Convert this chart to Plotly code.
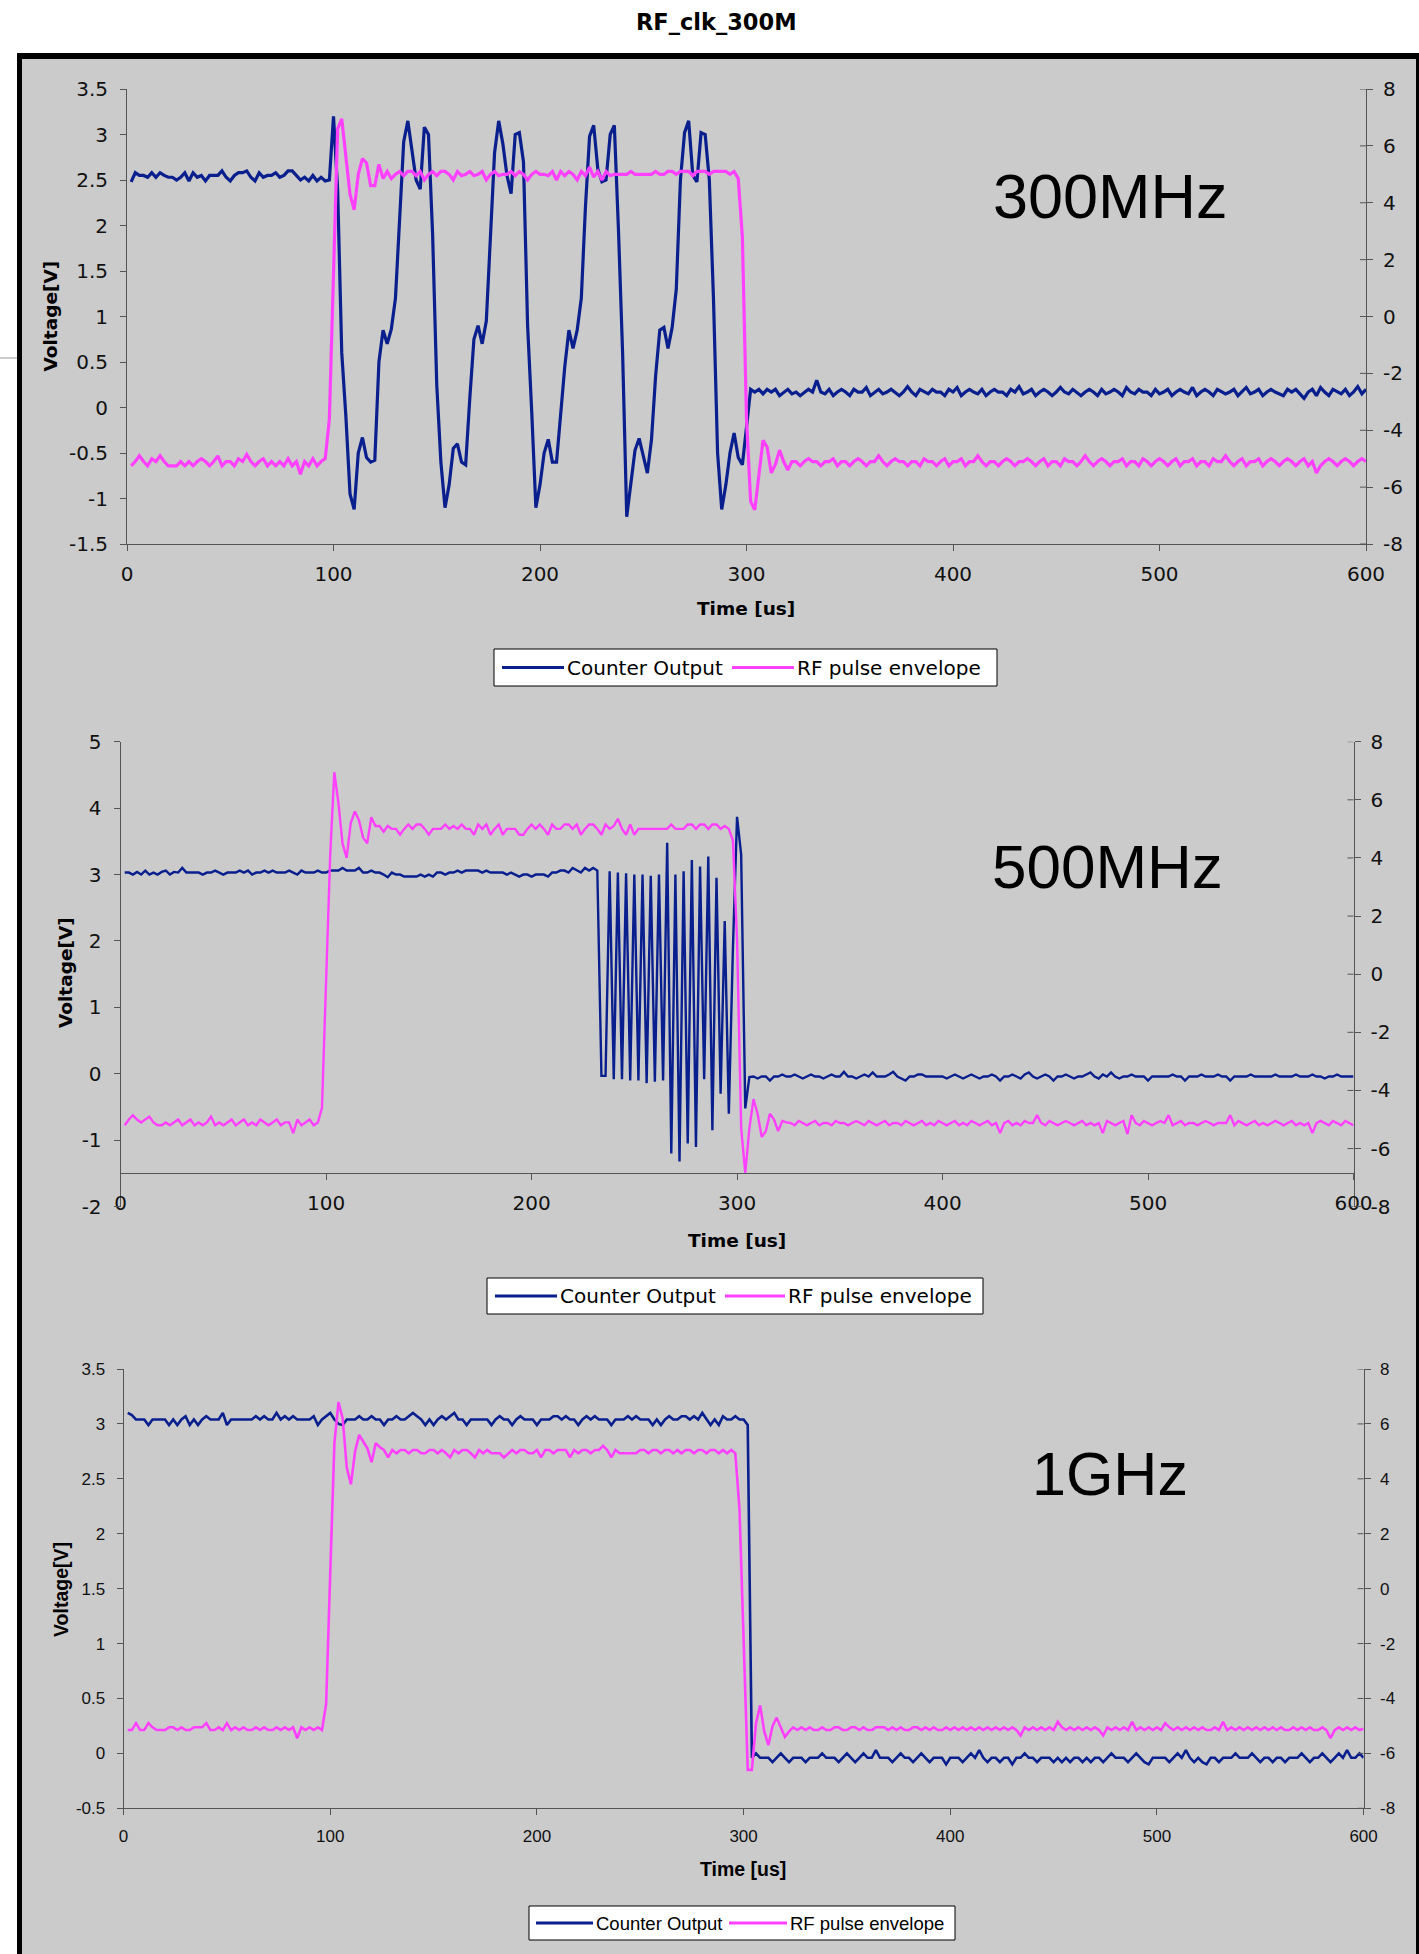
import plotly.graph_objects as go

W, H = 1419, 1954

# ---------------- data ----------------
TIME_US = [
    2, 4, 6, 8, 10, 12, 14, 16, 18, 20, 22, 24, 26, 28, 30, 32, 34, 36, 38, 40,
    42, 44, 46, 48, 50, 52, 54, 56, 58, 60, 62, 64, 66, 68, 70, 72, 74, 76, 78, 80,
    82, 84, 86, 88, 90, 92, 94, 96, 98, 100, 102, 104, 106, 108, 110, 112, 114, 116, 118, 120,
    122, 124, 126, 128, 130, 132, 134, 136, 138, 140, 142, 144, 146, 148, 150, 152, 154, 156, 158, 160,
    162, 164, 166, 168, 170, 172, 174, 176, 178, 180, 182, 184, 186, 188, 190, 192, 194, 196, 198, 200,
    202, 204, 206, 208, 210, 212, 214, 216, 218, 220, 222, 224, 226, 228, 230, 232, 234, 236, 238, 240,
    242, 244, 246, 248, 250, 252, 254, 256, 258, 260, 262, 264, 266, 268, 270, 272, 274, 276, 278, 280,
    282, 284, 286, 288, 290, 292, 294, 296, 298, 300, 302, 304, 306, 308, 310, 312, 314, 316, 318, 320,
    322, 324, 326, 328, 330, 332, 334, 336, 338, 340, 342, 344, 346, 348, 350, 352, 354, 356, 358, 360,
    362, 364, 366, 368, 370, 372, 374, 376, 378, 380, 382, 384, 386, 388, 390, 392, 394, 396, 398, 400,
    402, 404, 406, 408, 410, 412, 414, 416, 418, 420, 422, 424, 426, 428, 430, 432, 434, 436, 438, 440,
    442, 444, 446, 448, 450, 452, 454, 456, 458, 460, 462, 464, 466, 468, 470, 472, 474, 476, 478, 480,
    482, 484, 486, 488, 490, 492, 494, 496, 498, 500, 502, 504, 506, 508, 510, 512, 514, 516, 518, 520,
    522, 524, 526, 528, 530, 532, 534, 536, 538, 540, 542, 544, 546, 548, 550, 552, 554, 556, 558, 560,
    562, 564, 566, 568, 570, 572, 574, 576, 578, 580, 582, 584, 586, 588, 590, 592, 594, 596, 598, 600,
]

# ---- 300MHz : Counter Output (left axis) ----
C300_PRE = [  # t = 2 .. 98
    2.48, 2.58, 2.55, 2.55, 2.53, 2.58, 2.53, 2.58, 2.55, 2.53,
    2.53, 2.5, 2.53, 2.58, 2.49, 2.58, 2.53, 2.55, 2.49, 2.55,
    2.55, 2.55, 2.6, 2.53, 2.49, 2.55, 2.58, 2.58, 2.6, 2.53,
    2.49, 2.58, 2.53, 2.55, 2.55, 2.58, 2.53, 2.55, 2.6, 2.6,
    2.55, 2.5, 2.53, 2.49, 2.55, 2.49, 2.53, 2.49, 2.5]
C300_PULSE = [  # t = 100 .. 302
    3.2, 2.4, 0.6, -0.1, -0.95, -1.12, -0.5, -0.33, -0.55, -0.6,
    -0.58, 0.5, 0.85, 0.7, 0.86, 1.2, 2.05, 2.92, 3.15, 2.8,
    2.5, 2.4, 3.08, 3.0, 1.9, 0.25, -0.6, -1.1, -0.85, -0.45,
    -0.4, -0.6, -0.63, 0.1, 0.75, 0.9, 0.7, 0.95, 1.95, 2.8,
    3.15, 2.9, 2.55, 2.35, 3.0, 3.02, 2.7, 0.9, -0.05, -1.1,
    -0.85, -0.5, -0.35, -0.6, -0.6, -0.05, 0.45, 0.85, 0.65, 0.85,
    1.2, 2.2, 2.98, 3.1, 2.62, 2.48, 2.5, 3.0, 3.1, 1.95,
    0.6, -1.2, -0.8, -0.47, -0.34, -0.55, -0.72, -0.35, 0.35, 0.85,
    0.88, 0.65, 0.88, 1.3, 2.5, 3.02, 3.15, 2.55, 2.48, 3.02,
    3.0, 2.5, 1.2, -0.5, -1.12, -0.85, -0.5, -0.28, -0.55, -0.63,
    -0.2, 0.2]
C300_POST = [  # t = 304 .. 600
    0.17, 0.2, 0.15, 0.2, 0.17, 0.2, 0.13, 0.17, 0.2, 0.15,
    0.17, 0.13, 0.17, 0.2, 0.17, 0.3, 0.17, 0.15, 0.2, 0.13,
    0.17, 0.2, 0.17, 0.13, 0.2, 0.17, 0.17, 0.22, 0.13, 0.17,
    0.2, 0.15, 0.17, 0.2, 0.17, 0.13, 0.17, 0.23, 0.17, 0.13,
    0.2, 0.17, 0.15, 0.2, 0.17, 0.17, 0.13, 0.2, 0.17, 0.22,
    0.13, 0.17, 0.2, 0.17, 0.15, 0.2, 0.13, 0.17, 0.2, 0.17,
    0.17, 0.13, 0.2, 0.17, 0.23, 0.15, 0.17, 0.2, 0.13, 0.17,
    0.2, 0.17, 0.13, 0.17, 0.22, 0.17, 0.15, 0.2, 0.17, 0.13,
    0.17, 0.2, 0.17, 0.13, 0.2, 0.15, 0.17, 0.2, 0.17, 0.13,
    0.22, 0.17, 0.15, 0.2, 0.17, 0.17, 0.13, 0.2, 0.15, 0.17,
    0.2, 0.13, 0.17, 0.2, 0.17, 0.15, 0.22, 0.13, 0.17, 0.2,
    0.17, 0.13, 0.2, 0.17, 0.15, 0.17, 0.2, 0.13, 0.17, 0.22,
    0.15, 0.17, 0.2, 0.13, 0.17, 0.2, 0.17, 0.15, 0.13, 0.2,
    0.17, 0.2, 0.15, 0.1, 0.17, 0.2, 0.13, 0.22, 0.17, 0.13,
    0.2, 0.17, 0.15, 0.2, 0.13, 0.17, 0.23, 0.15, 0.2]

# ---- 300MHz : RF pulse envelope (right axis) ----
RF300_PRE = [  # t = 2 .. 96
    -5.25, -5.1, -4.9, -5.1, -5.25, -5.0, -5.1, -4.9, -5.1, -5.25,
    -5.25, -5.25, -5.1, -5.25, -5.1, -5.25, -5.1, -5.0, -5.1, -5.25,
    -5.1, -4.9, -5.25, -5.1, -5.1, -5.25, -5.0, -5.1, -4.85, -5.1,
    -5.25, -5.1, -5.0, -5.25, -5.1, -5.25, -5.1, -5.25, -5.0, -5.25,
    -5.1, -5.55, -5.1, -5.25, -5.0, -5.25, -5.1, -5.0]
RF300_ON = [  # t = 98 .. 298
    -3.6, 2.0, 6.6, 6.95, 5.5, 4.3, 3.75, 5.0, 5.55, 5.4,
    4.6, 4.6, 5.35, 4.85, 5.1, 4.85, 5.0, 5.1, 4.95, 5.1,
    5.1, 4.95, 5.1, 4.8, 5.0, 5.1, 4.95, 5.1, 5.1, 5.0,
    4.8, 5.1, 4.95, 5.0, 5.1, 4.95, 5.0, 5.1, 4.8, 5.0,
    5.1, 4.95, 5.0, 5.0, 5.1, 4.95, 5.1, 5.0, 4.8, 5.0,
    5.1, 5.0, 5.0, 4.95, 5.1, 4.8, 5.1, 4.95, 5.1, 5.0,
    4.8, 5.1, 4.95, 5.25, 4.9, 5.1, 4.8, 5.1, 4.95, 5.0,
    5.0, 5.0, 5.0, 5.1, 5.0, 5.0, 5.0, 5.0, 5.0, 5.1,
    5.0, 5.0, 5.1, 5.1, 5.0, 5.1, 5.1, 5.1, 4.95, 5.1,
    5.1, 5.1, 5.0, 5.1, 5.1, 5.1, 5.1, 5.0, 5.1, 4.85,
    2.8]
RF300_POST = [  # t = 300 .. 600
    -3.6, -6.5, -6.8, -5.6, -4.35, -4.6, -5.5, -5.2, -4.7, -5.1,
    -5.4,
    -5.1, -5.1, -5.25, -5.1, -5.0, -5.1, -5.1, -5.25, -5.1, -5.1,
    -5.0, -5.25, -5.1, -5.1, -5.25, -5.1, -5.0, -5.1, -5.25, -5.1,
    -5.1, -4.9, -5.1, -5.25, -5.1, -5.0, -5.1, -5.1, -5.25, -5.1,
    -5.1, -5.25, -5.0, -5.1, -5.1, -5.25, -5.1, -5.0, -5.25, -5.1,
    -5.1, -5.0, -5.25, -5.1, -5.1, -4.9, -5.1, -5.25, -5.1, -5.1,
    -5.25, -5.1, -5.0, -5.1, -5.25, -5.1, -5.1, -5.0, -5.1, -5.25,
    -5.1, -5.0, -5.25, -5.1, -5.1, -5.25, -5.0, -5.1, -5.1, -5.25,
    -5.1, -4.9, -5.1, -5.25, -5.1, -5.0, -5.1, -5.25, -5.1, -5.1,
    -5.0, -5.25, -5.1, -5.1, -5.25, -5.0, -5.1, -5.25, -5.1, -5.0,
    -5.1, -5.25, -5.1, -5.0, -5.25, -5.1, -5.1, -5.0, -5.25, -5.1,
    -5.1, -5.25, -5.0, -5.1, -5.1, -4.9, -5.1, -5.25, -5.1, -5.0,
    -5.25, -5.1, -5.1, -5.0, -5.25, -5.1, -5.0, -5.1, -5.25, -5.1,
    -5.0, -5.1, -5.25, -5.1, -5.0, -5.25, -5.1, -5.5, -5.25, -5.1,
    -5.0, -5.1, -5.25, -5.1, -5.0, -5.1, -5.25, -5.1, -5.0, -5.1]

# ---- 500MHz : Counter Output (left axis) ----
C500_PRE = [  # t = 2 .. 230
    3.03, 3.03, 3.0, 3.04, 3.0, 3.06, 3.0, 3.03, 3.0, 3.04,
    3.06, 3.0, 3.04, 3.03, 3.1, 3.03, 3.03, 3.03, 3.03, 3.0,
    3.03, 3.03, 3.06, 3.03, 3.0, 3.03, 3.03, 3.03, 3.06, 3.03,
    3.06, 3.0, 3.03, 3.03, 3.06, 3.03, 3.06, 3.03, 3.03, 3.03,
    3.06, 3.03, 3.0, 3.06, 3.03, 3.03, 3.03, 3.06, 3.03, 3.03,
    3.06, 3.06, 3.06, 3.1, 3.06, 3.06, 3.06, 3.1, 3.03, 3.03,
    3.06, 3.03, 3.03, 3.0, 2.96, 3.03, 3.0, 3.0, 2.97, 2.97,
    2.97, 2.97, 3.0, 2.97, 3.0, 2.97, 3.03, 3.03, 3.0, 3.03,
    3.03, 3.06, 3.03, 3.06, 3.06, 3.06, 3.06, 3.03, 3.06, 3.03,
    3.03, 3.03, 3.03, 3.0, 3.03, 3.0, 2.97, 3.0, 3.0, 2.97,
    3.0, 3.0, 3.0, 2.97, 3.03, 3.03, 3.06, 3.06, 3.03, 3.1,
    3.06, 3.03, 3.1, 3.06, 3.1]
C500_BURST = [  # t = 232 .. 306
    3.06, -0.03, -0.03, 3.05, -0.08, 3.03, -0.08, 3.02, -0.1, 3.0,
    -0.1, 3.0, -0.14, 2.98, -0.12, 3.0, -0.1, 3.48, -1.2, 3.0,
    -1.32, 3.05, -1.05, 3.22, -1.1, 3.12, -0.08, 3.27, -0.85, 2.95,
    -0.3, 2.3, -0.6, 1.9, 3.87, 3.3, -0.52, -0.05]
C500_POST = [  # t = 308 .. 600
    -0.04, -0.07, -0.04, -0.04, -0.1, -0.04, -0.04, -0.01, -0.04, -0.04,
    -0.01, -0.04, -0.07, -0.04, -0.01, -0.04, -0.04, -0.07, -0.04, -0.01,
    -0.04, -0.04, 0.03, -0.04, -0.04, -0.07, -0.04, -0.01, -0.04, 0.02,
    -0.04, -0.04, -0.04, -0.01, 0.03, -0.04, -0.07, -0.1, -0.04, -0.04,
    -0.01, -0.01, -0.04, -0.04, -0.04, -0.04, -0.04, -0.07, -0.04, -0.01,
    -0.04, -0.07, -0.04, -0.01, -0.04, -0.07, -0.04, -0.04, -0.01, -0.04,
    -0.1, -0.04, -0.04, -0.01, -0.04, -0.07, -0.01, 0.02, -0.04, -0.07,
    -0.04, -0.01, -0.04, -0.1, -0.04, -0.04, -0.01, -0.04, -0.07, -0.04,
    -0.04, -0.01, 0.02, -0.04, -0.07, -0.01, -0.04, 0.02, -0.04, -0.07,
    -0.04, -0.04, -0.01, -0.04, -0.04, -0.04, -0.1, -0.04, -0.04, -0.04,
    -0.04, -0.04, -0.01, -0.04, -0.04, -0.1, -0.04, -0.04, -0.04, -0.01,
    -0.04, -0.04, -0.04, -0.01, -0.04, -0.04, -0.1, -0.04, -0.04, -0.04,
    -0.04, -0.01, -0.04, -0.04, -0.04, -0.04, -0.04, -0.01, -0.04, -0.04,
    -0.04, -0.04, -0.01, -0.04, -0.04, -0.04, -0.01, -0.04, -0.04, -0.07,
    -0.04, -0.04, -0.01, -0.04, -0.04, -0.04, -0.04]

# ---- 500MHz : RF pulse envelope (right axis) ----
RF500_PRE = [  # t = 2 .. 96
    -5.2, -5.0, -4.85, -5.0, -5.1, -5.0, -4.9, -5.1, -5.2, -5.2,
    -5.1, -5.2, -5.1, -5.0, -5.2, -5.1, -5.0, -5.2, -5.1, -5.2,
    -5.1, -4.9, -5.2, -5.1, -5.2, -5.1, -5.0, -5.2, -5.1, -5.0,
    -5.2, -5.1, -5.2, -5.0, -5.1, -5.2, -5.1, -5.0, -5.2, -5.1,
    -5.1, -5.47, -5.0, -5.2, -5.1, -5.0, -5.2, -5.1]
RF500_ON = [  # t = 98 .. 296
    -4.6, -0.4, 4.1, 6.95, 5.9, 4.5, 4.0, 5.2, 5.6, 5.3,
    4.7, 4.5, 5.4, 5.1, 5.1, 4.9, 5.1, 5.0,
    5.0, 4.8, 5.0, 5.15, 5.0, 5.15, 5.15, 5.0, 4.8, 5.0,
    5.0, 5.0, 5.15, 5.0, 5.1, 5.0, 5.15, 5.0, 5.0, 4.8,
    5.15, 5.0, 5.15, 4.8, 5.0, 5.15, 4.8, 5.0, 5.0, 5.0,
    4.8, 4.8, 5.0, 5.15, 5.0, 5.15, 5.0, 4.8, 5.15, 5.0,
    5.0, 5.15, 5.15, 5.0, 5.15, 4.8, 5.0, 5.15, 5.15, 5.0,
    4.8, 5.15, 5.0, 5.1, 5.35, 5.0, 4.8, 5.15, 4.8, 5.0,
    5.0, 5.0, 5.0, 5.0, 5.0, 5.0, 5.0, 5.15, 5.0, 5.0,
    5.0, 5.15, 5.15, 5.0, 5.15, 5.15, 5.0, 5.15, 5.15, 5.0,
    5.1, 5.0]
RF500_POST = [  # t = 298 .. 600
    4.6, 1.2, -5.3, -6.84, -5.3, -4.3, -4.8, -5.6, -5.4, -4.8,
    -5.0, -5.4, -5.05, -5.1,
    -5.12, -5.2, -5.05, -5.12, -5.2, -5.12, -5.05, -5.2, -5.12, -5.12,
    -5.2, -5.05, -5.12, -5.12, -5.2, -5.12, -5.05, -5.12, -5.2, -5.05,
    -5.12, -5.2, -5.12, -5.05, -5.2, -5.12, -5.12, -5.2, -5.05, -5.12,
    -5.2, -5.12, -5.05, -5.2, -5.12, -5.2, -5.05, -5.12, -5.2, -5.12,
    -5.05, -5.2, -5.12, -5.2, -5.05, -5.12, -5.2, -5.12, -5.05, -5.2,
    -5.12, -5.47, -5.12, -5.05, -5.2, -5.12, -5.2, -5.05, -5.12, -5.12,
    -4.85, -5.12, -5.2, -5.05, -5.12, -5.2, -5.12, -5.05, -5.12, -5.2,
    -5.12, -5.05, -5.2, -5.12, -5.2, -5.12, -5.47, -5.05, -5.12, -5.2,
    -5.12, -5.05, -5.5, -4.85, -5.12, -5.2, -5.05, -5.12, -5.2, -5.12,
    -5.05, -5.12, -4.85, -5.2, -5.12, -5.05, -5.2, -5.12, -5.12, -5.2,
    -5.12, -5.05, -5.12, -5.2, -5.12, -5.12, -5.12, -4.85, -5.2, -5.05,
    -5.12, -5.2, -5.12, -5.05, -5.2, -5.12, -5.2, -5.12, -5.05, -5.12,
    -5.2, -5.12, -5.05, -5.2, -5.12, -5.2, -5.12, -5.47, -5.12, -5.05,
    -5.12, -5.2, -5.05, -5.12, -5.2, -5.05, -5.12, -5.2]

# ---- 1GHz : Counter Output (left axis) ----
C1G_PRE = [  # t = 2 .. 302
    3.1, 3.08, 3.04, 3.04, 3.04, 2.99, 3.04, 3.04, 3.04, 3.04,
    2.99, 3.04, 2.99, 3.04, 3.07, 2.99, 3.04, 2.99, 3.04, 3.07,
    3.04, 3.04, 3.04, 3.1, 2.99, 3.04, 3.04, 3.04, 3.04, 3.04,
    3.04, 3.07, 3.04, 3.07, 3.04, 3.04, 3.1, 3.04, 3.07, 3.04,
    3.07, 3.04, 3.04, 3.04, 3.04, 3.07, 2.99, 3.04, 3.07, 3.1,
    3.04, 3.0, 2.99, 3.04, 3.04, 3.04, 3.07, 3.04, 3.04, 3.07,
    3.04, 3.04, 2.99, 3.04, 3.04, 3.07, 3.04, 3.04, 3.07, 3.1,
    3.07, 3.04, 2.99, 3.04, 2.99, 3.04, 3.07, 3.04, 3.07, 3.1,
    3.04, 3.04, 2.99, 3.04, 3.04, 3.04, 3.04, 3.04, 2.99, 3.04,
    3.07, 3.04, 3.04, 2.99, 3.04, 3.07, 3.04, 3.04, 3.04, 2.99,
    3.04, 3.04, 3.04, 3.07, 3.07, 3.04, 3.07, 3.04, 3.04, 2.99,
    3.04, 3.07, 3.04, 3.07, 3.04, 3.04, 3.04, 2.99, 3.04, 3.04,
    3.04, 3.07, 3.04, 3.07, 3.04, 3.04, 3.04, 2.99, 3.04, 2.99,
    3.04, 3.07, 3.04, 3.04, 3.07, 3.07, 3.04, 3.07, 3.04, 3.1,
    3.04, 2.99, 3.04, 2.99, 3.07, 3.04, 3.04, 3.07, 3.04, 3.04,
    2.99]
C1G_POST = [  # t = 304 .. 600
    -0.04, 0.0, -0.04, -0.04, -0.04, -0.08, -0.04, 0.0, -0.04, -0.08,
    -0.04, -0.04, -0.04, -0.08, -0.04, -0.04, -0.04, 0.0, -0.04, -0.04,
    -0.04, -0.08, -0.04, 0.0, -0.04, -0.08, -0.04, 0.0, -0.04, -0.04,
    0.03, -0.04, -0.04, -0.04, -0.08, -0.04, 0.0, -0.04, -0.04, -0.08,
    -0.04, 0.0, -0.04, -0.08, -0.04, -0.04, -0.04, -0.1, -0.04, -0.04,
    -0.04, -0.08, -0.04, 0.0, -0.04, 0.03, -0.04, -0.08, -0.04, -0.04,
    -0.08, -0.04, -0.04, -0.1, -0.04, -0.04, 0.0, -0.04, -0.04, -0.08,
    -0.04, -0.04, -0.04, -0.08, -0.04, -0.08, -0.04, -0.08, -0.04, -0.04,
    -0.08, -0.04, -0.08, -0.04, -0.04, -0.08, -0.04, 0.0, -0.04, -0.04,
    -0.04, -0.08, -0.04, 0.0, -0.04, -0.08, -0.1, -0.04, -0.04, -0.04,
    -0.04, -0.08, -0.04, 0.0, -0.04, 0.03, -0.04, -0.08, -0.04, -0.08,
    -0.1, -0.04, -0.04, -0.08, -0.04, -0.04, -0.04, 0.0, -0.04, -0.04,
    -0.04, 0.0, -0.04, -0.08, -0.04, -0.04, -0.08, -0.04, -0.04, -0.08,
    -0.04, -0.04, -0.04, 0.0, -0.04, -0.08, -0.04, -0.04, 0.0, -0.04,
    -0.08, -0.04, 0.0, -0.04, 0.03, -0.04, -0.04, 0.0, -0.04]

# ---- 1GHz : RF pulse envelope (right axis) ----
RF1G_PRE = [  # t = 2 .. 96
    -5.15, -5.15, -4.9, -5.15, -5.15, -4.9, -5.05, -5.15, -5.15, -5.15,
    -5.05, -5.05, -5.15, -5.05, -5.15, -5.15, -5.05, -5.05, -5.05, -4.9,
    -5.15, -5.15, -5.05, -5.15, -4.9, -5.15, -5.05, -5.15, -5.05, -5.15,
    -5.15, -5.05, -5.15, -5.05, -5.15, -5.15, -5.05, -5.15, -5.05, -5.15,
    -5.05, -5.45, -5.05, -5.15, -5.05, -5.15, -5.05, -5.15]
RF1G_ON = [  # t = 98 .. 296
    -4.2, 0.6, 5.3, 6.8, 6.2, 4.4, 3.8, 5.0, 5.6, 5.35,
    5.1, 4.6, 5.3, 5.15,
    5.05, 4.78, 5.05, 4.93, 5.05, 5.05, 4.93, 5.05, 5.05, 4.93,
    4.93, 5.05, 5.05, 4.93, 5.05, 4.93, 4.78, 5.05, 4.93, 5.05,
    5.05, 4.93, 4.78, 5.05, 4.93, 5.05, 4.93, 4.93, 4.93, 4.78,
    4.93, 5.05, 4.93, 5.05, 5.05, 4.93, 4.93, 5.05, 4.78, 5.05,
    5.05, 4.93, 5.05, 5.05, 5.05, 4.78, 5.05, 4.93, 5.05, 5.05,
    4.93, 5.05, 5.05, 5.2, 5.05, 4.78, 5.05, 4.93, 4.93, 4.93,
    4.93, 4.93, 5.05, 5.05, 4.93, 5.05, 5.05, 4.93, 5.05, 5.05,
    4.93, 5.05, 4.93, 5.05, 5.05, 4.93, 5.05, 5.05, 4.93, 5.05,
    5.05, 4.93, 5.05, 4.93, 5.05, 4.93]
RF1G_POST = [  # t = 298 .. 600
    2.9, -2.2, -6.6, -6.6, -4.9, -4.25, -5.2, -5.7, -5.0, -4.7,
    -5.05, -5.4, -5.2, -5.05,
    -5.15, -5.05, -5.15, -5.05, -5.15, -5.15, -5.05, -5.15, -5.15, -5.05,
    -5.05, -5.15, -5.15, -5.05, -5.05, -5.15, -5.05, -5.15, -5.15, -5.05,
    -5.05, -5.05, -5.15, -5.05, -5.15, -5.05, -5.15, -5.15, -5.05, -5.05,
    -5.15, -5.05, -5.15, -5.05, -5.15, -5.15, -5.05, -5.15, -5.05, -5.15,
    -5.05, -5.15, -5.05, -5.15, -5.05, -5.15, -5.05, -5.15, -5.05, -5.15,
    -5.05, -5.15, -5.05, -5.15, -5.35, -5.05, -5.15, -5.05, -5.15, -5.05,
    -5.15, -5.05, -5.15, -4.85, -5.05, -5.15, -5.05, -5.15, -5.05, -5.15,
    -5.05, -5.15, -5.05, -5.15, -5.35, -5.05, -5.15, -5.05, -5.15, -5.05,
    -5.15, -4.85, -5.15, -5.05, -5.15, -5.05, -5.15, -5.05, -5.15, -4.9,
    -5.05, -5.15, -5.05, -5.15, -5.05, -5.15, -5.05, -5.15, -5.05, -5.15,
    -5.15, -5.05, -5.15, -4.85, -5.15, -5.05, -5.15, -5.05, -5.15, -5.05,
    -5.15, -5.05, -5.15, -5.05, -5.15, -5.05, -5.15, -5.05, -5.15, -5.15,
    -5.05, -5.15, -5.05, -5.15, -5.05, -5.15, -5.15, -5.05, -5.15, -5.45,
    -5.15, -5.05, -5.15, -5.05, -5.15, -5.05, -5.15, -5.1]

COUNTER_300 = C300_PRE + C300_PULSE + C300_POST
RF_300 = RF300_PRE + RF300_ON + RF300_POST
COUNTER_500 = C500_PRE + C500_BURST + C500_POST
RF_500 = RF500_PRE + RF500_ON + RF500_POST
COUNTER_1G = C1G_PRE + C1G_POST
RF_1G = RF1G_PRE + RF1G_ON + RF1G_POST

for _name, _s in [("COUNTER_300", COUNTER_300), ("RF_300", RF_300),
                  ("COUNTER_500", COUNTER_500), ("RF_500", RF_500),
                  ("COUNTER_1G", COUNTER_1G), ("RF_1G", RF_1G)]:
    if len(_s) != len(TIME_US):
        raise SystemExit(f"{_name}: {len(_s)} values, expected {len(TIME_US)}")

SERIES_NAMES = ["Counter Output", "RF pulse envelope"]
PANEL_LABELS = ["300MHz", "500MHz", "1GHz"]
CHART_TITLE = "RF_clk_300M"
X_TITLE = "Time [us]"
Y_TITLE = "Voltage[V]"

X_TICKS = [0, 100, 200, 300, 400, 500, 600]
X_TICK_TEXT = ["0", "100", "200", "300", "400", "500", "600"]
RIGHT_TICKS = [-8, -6, -4, -2, 0, 2, 4, 6, 8]
RIGHT_TICK_TEXT = ["-8", "-6", "-4", "-2", "0", "2", "4", "6", "8"]
P1_LEFT_TICKS = [-1.5, -1, -0.5, 0, 0.5, 1, 1.5, 2, 2.5, 3, 3.5]
P1_LEFT_TEXT = ["-1.5", "-1", "-0.5", "0", "0.5", "1", "1.5", "2", "2.5", "3", "3.5"]
P2_LEFT_TICKS = [-2, -1, 0, 1, 2, 3, 4, 5]
P2_LEFT_TEXT = ["-2", "-1", "0", "1", "2", "3", "4", "5"]
P3_LEFT_TICKS = [-0.5, 0, 0.5, 1, 1.5, 2, 2.5, 3, 3.5]
P3_LEFT_TEXT = ["-0.5", "0", "0.5", "1", "1.5", "2", "2.5", "3", "3.5"]

# ---------------- styling / layout ----------------
BLUE = "#0a1f8e"
PINK = "#ff40ff"
GREY_BG = "#cbcbcb"
AXIS_COL = "#555555"
WIDE_FONT = "DejaVu Sans, Verdana, sans-serif"
ARIAL = "Liberation Sans, Arial, Helvetica, sans-serif"


def PX(x):
    return x / W


def PY(y):
    return 1 - y / H


# panel geometry in pixels: x0, x1, ytop, ybottom, x-axis line y
PANELS = [
    dict(x0=127.0, x1=1366.0, yt=89.0, yb=544.0, xline=544.0),
    dict(x0=120.6, x1=1353.5, yt=741.7, yb=1206.7, xline=1173.0),
    dict(x0=123.6, x1=1363.6, yt=1369.0, yb=1808.3, xline=1808.3),
]
LEFT_TICKS = [(P1_LEFT_TICKS, P1_LEFT_TEXT, [-1.5, 3.5]),
              (P2_LEFT_TICKS, P2_LEFT_TEXT, [-2, 5]),
              (P3_LEFT_TICKS, P3_LEFT_TEXT, [-0.5, 3.5])]
LINE_W = [3.2, 2.4, 2.6]
TICK_FONT = [dict(family=WIDE_FONT, size=20, color="#111"),
             dict(family=WIDE_FONT, size=20, color="#111"),
             dict(family=ARIAL, size=17, color="#111")]
COUNTERS = [COUNTER_300, COUNTER_500, COUNTER_1G]
RFS = [RF_300, RF_500, RF_1G]

fig = go.Figure()
layout = dict(
    width=W, height=H, autosize=False,
    margin=dict(l=0, r=0, t=0, b=0, pad=0, autoexpand=False),
    paper_bgcolor="white", plot_bgcolor="rgba(0,0,0,0)",
    showlegend=False,
)

for i, p in enumerate(PANELS):
    n = i + 1
    xa = "x" if n == 1 else f"x{n}"
    ya = "y" if n == 1 else f"y{n}"
    yr = f"y{n + 3}"
    fig.add_trace(go.Scatter(x=TIME_US, y=COUNTERS[i], mode="lines", name=SERIES_NAMES[0],
                             line=dict(color=BLUE, width=LINE_W[i]), xaxis=xa, yaxis=ya,
                             hoverinfo="skip"))
    fig.add_trace(go.Scatter(x=TIME_US, y=RFS[i], mode="lines", name=SERIES_NAMES[1],
                             line=dict(color=PINK, width=LINE_W[i]), xaxis=xa, yaxis=yr,
                             hoverinfo="skip"))
    xdom = [PX(p["x0"]), PX(p["x1"])]
    ydom = [PY(p["yb"]), PY(p["yt"])]
    xkey = "xaxis" if n == 1 else f"xaxis{n}"
    ykey = "yaxis" if n == 1 else f"yaxis{n}"
    common = dict(ticks="outside", ticklen=6, tickcolor=AXIS_COL, showline=True,
                  linecolor=AXIS_COL, linewidth=1, showgrid=False, zeroline=False,
                  tickfont=TICK_FONT[i], fixedrange=True, automargin=False)
    xaxis = dict(domain=xdom, range=[0, 600], tickvals=X_TICKS, ticktext=X_TICK_TEXT,
                 ticklabelstandoff=6, **common)
    if p["xline"] != p["yb"]:
        xaxis.update(anchor="free", position=PY(p["xline"]))
    else:
        xaxis.update(anchor=ya)
    layout[xkey] = xaxis
    lt, ltxt, lrange = LEFT_TICKS[i]
    layout[ykey] = dict(domain=ydom, anchor=xa, range=lrange, tickvals=lt, ticktext=ltxt,
                        ticklabelstandoff=8, **common)
    layout[f"yaxis{n + 3}"] = dict(overlaying=ya, anchor=xa, side="right", range=[-8, 8],
                                   tickvals=RIGHT_TICKS, ticktext=RIGHT_TICK_TEXT,
                                   ticklabelstandoff=6, **common)

fig.update_layout(**layout)

shapes = []
# chart area background and frame
shapes.append(dict(type="rect", xref="paper", yref="paper", x0=PX(17), x1=PX(1419), y0=PY(1960),
                   y1=PY(53), fillcolor=GREY_BG, line=dict(width=0), layer="below"))
for (a, b, c, d) in [(17, 1419, 53, 59), (17, 22, 53, 1960), (1416, 1419, 53, 1960)]:
    shapes.append(dict(type="rect", xref="paper", yref="paper", x0=PX(a), x1=PX(b), y0=PY(d),
                       y1=PY(c), fillcolor="black", line=dict(width=0), layer="below"))
shapes.append(dict(type="line", xref="paper", yref="paper", x0=PX(0), x1=PX(17), y0=PY(358),
                   y1=PY(358), line=dict(color="#9a9a9a", width=1)))
# inner half of the cross ticks on the right axes
for i, p in enumerate(PANELS):
    yr = f"y{i + 4}"
    for v in RIGHT_TICKS:
        shapes.append(dict(type="line", xref="paper", yref=yr, x0=PX(p["x1"] - 6), x1=PX(p["x1"]),
                           y0=v, y1=v, line=dict(color=AXIS_COL, width=1)))

annotations = []
annotations.append(dict(text=CHART_TITLE, x=PX(717), y=PY(22), xref="paper", yref="paper",
                        showarrow=False, xanchor="center", yanchor="middle",
                        font=dict(family=WIDE_FONT, size=22.5, color="black", weight="bold")))

# axis titles, frequency labels, legends
YT_POS = [(50, 316.5), (65, 973), (61, 1590)]
XT_POS = [(746, 609), (737, 1240), (743, 1869)]
LBL_POS = [(1110, 196, 63), (1107, 866, 62), (1110, 1474, 61)]
TITLE_FONT = [dict(family=WIDE_FONT, size=18.5, color="black", weight="bold"),
              dict(family=WIDE_FONT, size=18.5, color="black", weight="bold"),
              dict(family=ARIAL, size=19.5, color="black", weight="bold")]
LEG = [
    dict(box=(494, 649, 997, 686), l1=(502, 564), t1=565, l2=(732, 794), t2=795),
    dict(box=(487, 1278, 983, 1314), l1=(495, 557), t1=558, l2=(725, 785), t2=786),
    dict(box=(529, 1906, 955, 1940), l1=(536, 593), t1=594, l2=(729, 787), t2=788),
]
LEG_FONT = [dict(family=WIDE_FONT, size=20, color="black"),
            dict(family=WIDE_FONT, size=20, color="black"),
            dict(family=ARIAL, size=18.5, color="black")]

for i in range(3):
    yx, yy = YT_POS[i]
    annotations.append(dict(text=Y_TITLE, x=PX(yx), y=PY(yy), xref="paper", yref="paper",
                            showarrow=False, textangle=-90, xanchor="center", yanchor="middle",
                            font=TITLE_FONT[i]))
    xx, xy = XT_POS[i]
    annotations.append(dict(text=X_TITLE, x=PX(xx), y=PY(xy), xref="paper", yref="paper",
                            showarrow=False, xanchor="center", yanchor="middle",
                            font=TITLE_FONT[i]))
    lx, ly, ls = LBL_POS[i]
    annotations.append(dict(text=PANEL_LABELS[i], x=PX(lx), y=PY(ly), xref="paper", yref="paper",
                            showarrow=False, xanchor="center", yanchor="middle",
                            font=dict(family=ARIAL, size=ls, color="black")))
    lg = LEG[i]
    bx0, by0, bx1, by1 = lg["box"]
    cy = (by0 + by1) / 2
    shapes.append(dict(type="rect", xref="paper", yref="paper", x0=PX(bx0), x1=PX(bx1),
                       y0=PY(by1), y1=PY(by0), fillcolor="white",
                       line=dict(color="black", width=1)))
    shapes.append(dict(type="line", xref="paper", yref="paper", x0=PX(lg["l1"][0]),
                       x1=PX(lg["l1"][1]), y0=PY(cy), y1=PY(cy), line=dict(color=BLUE, width=3)))
    shapes.append(dict(type="line", xref="paper", yref="paper", x0=PX(lg["l2"][0]),
                       x1=PX(lg["l2"][1]), y0=PY(cy), y1=PY(cy), line=dict(color=PINK, width=3)))
    annotations.append(dict(text=SERIES_NAMES[0], x=PX(lg["t1"]), y=PY(cy), xref="paper",
                            yref="paper", showarrow=False, xanchor="left", yanchor="middle",
                            font=LEG_FONT[i]))
    annotations.append(dict(text=SERIES_NAMES[1], x=PX(lg["t2"]), y=PY(cy), xref="paper",
                            yref="paper", showarrow=False, xanchor="left", yanchor="middle",
                            font=LEG_FONT[i]))

fig.update_layout(shapes=shapes, annotations=annotations)
# remove the default page margin so the 1419x1954 figure fills the window exactly
fig.write_html("out.html",
               config={"displayModeBar": False, "staticPlot": True},
               post_script="document.body.style.margin='0';"
                           "document.body.style.overflow='hidden';")
